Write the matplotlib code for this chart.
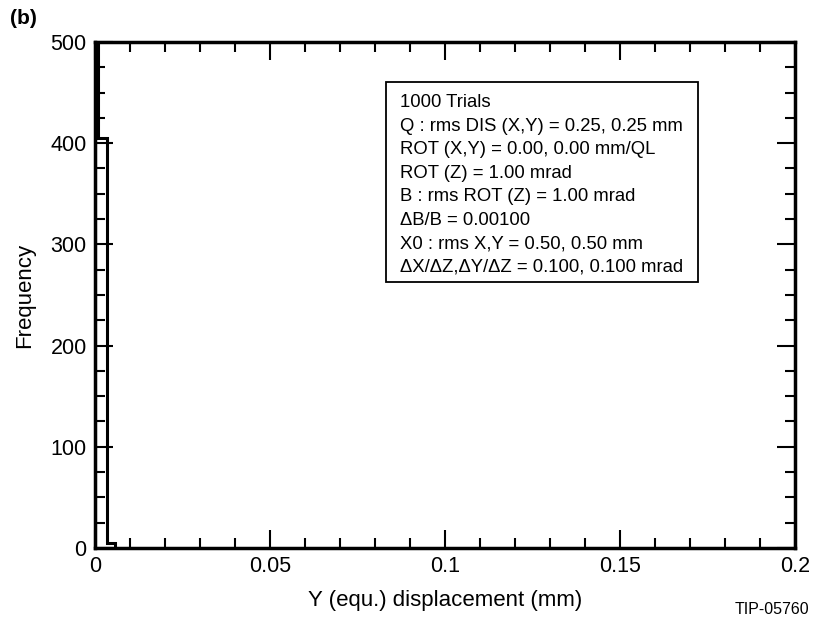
import numpy as np
import matplotlib.pyplot as plt
from matplotlib.ticker import MultipleLocator
from matplotlib.patches import Rectangle

plt.rcParams['font.family'] = ['Liberation Sans', 'DejaVu Sans']

# histogram of equivalent Y displacement, 1000 trials
bin_edges = [0.0, 0.001, 0.0034, 0.0057]
counts = [590, 405, 5]

info_lines = [
    '1000 Trials',
    'Q : rms DIS (X,Y) = 0.25, 0.25 mm',
    'ROT (X,Y) = 0.00, 0.00 mm/QL',
    'ROT (Z) = 1.00 mrad',
    'B : rms ROT (Z) = 1.00 mrad',
    '\u0394B/B = 0.00100',
    'X0 : rms X,Y = 0.50, 0.50 mm',
    '\u0394X/\u0394Z,\u0394Y/\u0394Z = 0.100, 0.100 mrad',
]

fig = plt.figure(figsize=(8.14, 6.21), dpi=100)
ax = fig.add_axes([0.1167, 0.1176, 0.86, 0.8148])

ax.stairs(counts, bin_edges, color='k', linewidth=2.2)

ax.set_xlim(0, 0.2)
ax.set_ylim(0, 500)
ax.xaxis.set_major_locator(MultipleLocator(0.05))
ax.xaxis.set_minor_locator(MultipleLocator(0.01))
ax.yaxis.set_major_locator(MultipleLocator(100))
ax.yaxis.set_minor_locator(MultipleLocator(25))
ax.set_xticks([0, 0.05, 0.1, 0.15, 0.2])
ax.set_xticklabels(['0', '0.05', '0.1', '0.15', '0.2'])

ax.tick_params(which='both', direction='in', top=True, right=True,
               width=1.5, labelsize=15.5, pad=6)
ax.tick_params(which='major', length=13)
ax.tick_params(which='minor', length=7)
for sp in ax.spines.values():
    sp.set_linewidth(2.5)

ax.set_xlabel('Y (equ.) displacement (mm)', fontsize=16, labelpad=9)
ax.set_ylabel('Frequency', fontsize=16, labelpad=11)

# parameter box
ax.add_patch(Rectangle((0.416, 0.526), 0.445, 0.395, transform=ax.transAxes,
                       facecolor='white', edgecolor='k', linewidth=1.3))
ax.text(0.436, 0.897, '\n'.join(info_lines), transform=ax.transAxes,
        fontsize=13.3, va='top', ha='left', linespacing=1.5)

fig.text(0.012, 0.962, '(b)', fontsize=15, fontweight='bold')
fig.text(0.903, 0.012, 'TIP-05760', fontsize=11.5)

plt.savefig('out.png', dpi=100)
